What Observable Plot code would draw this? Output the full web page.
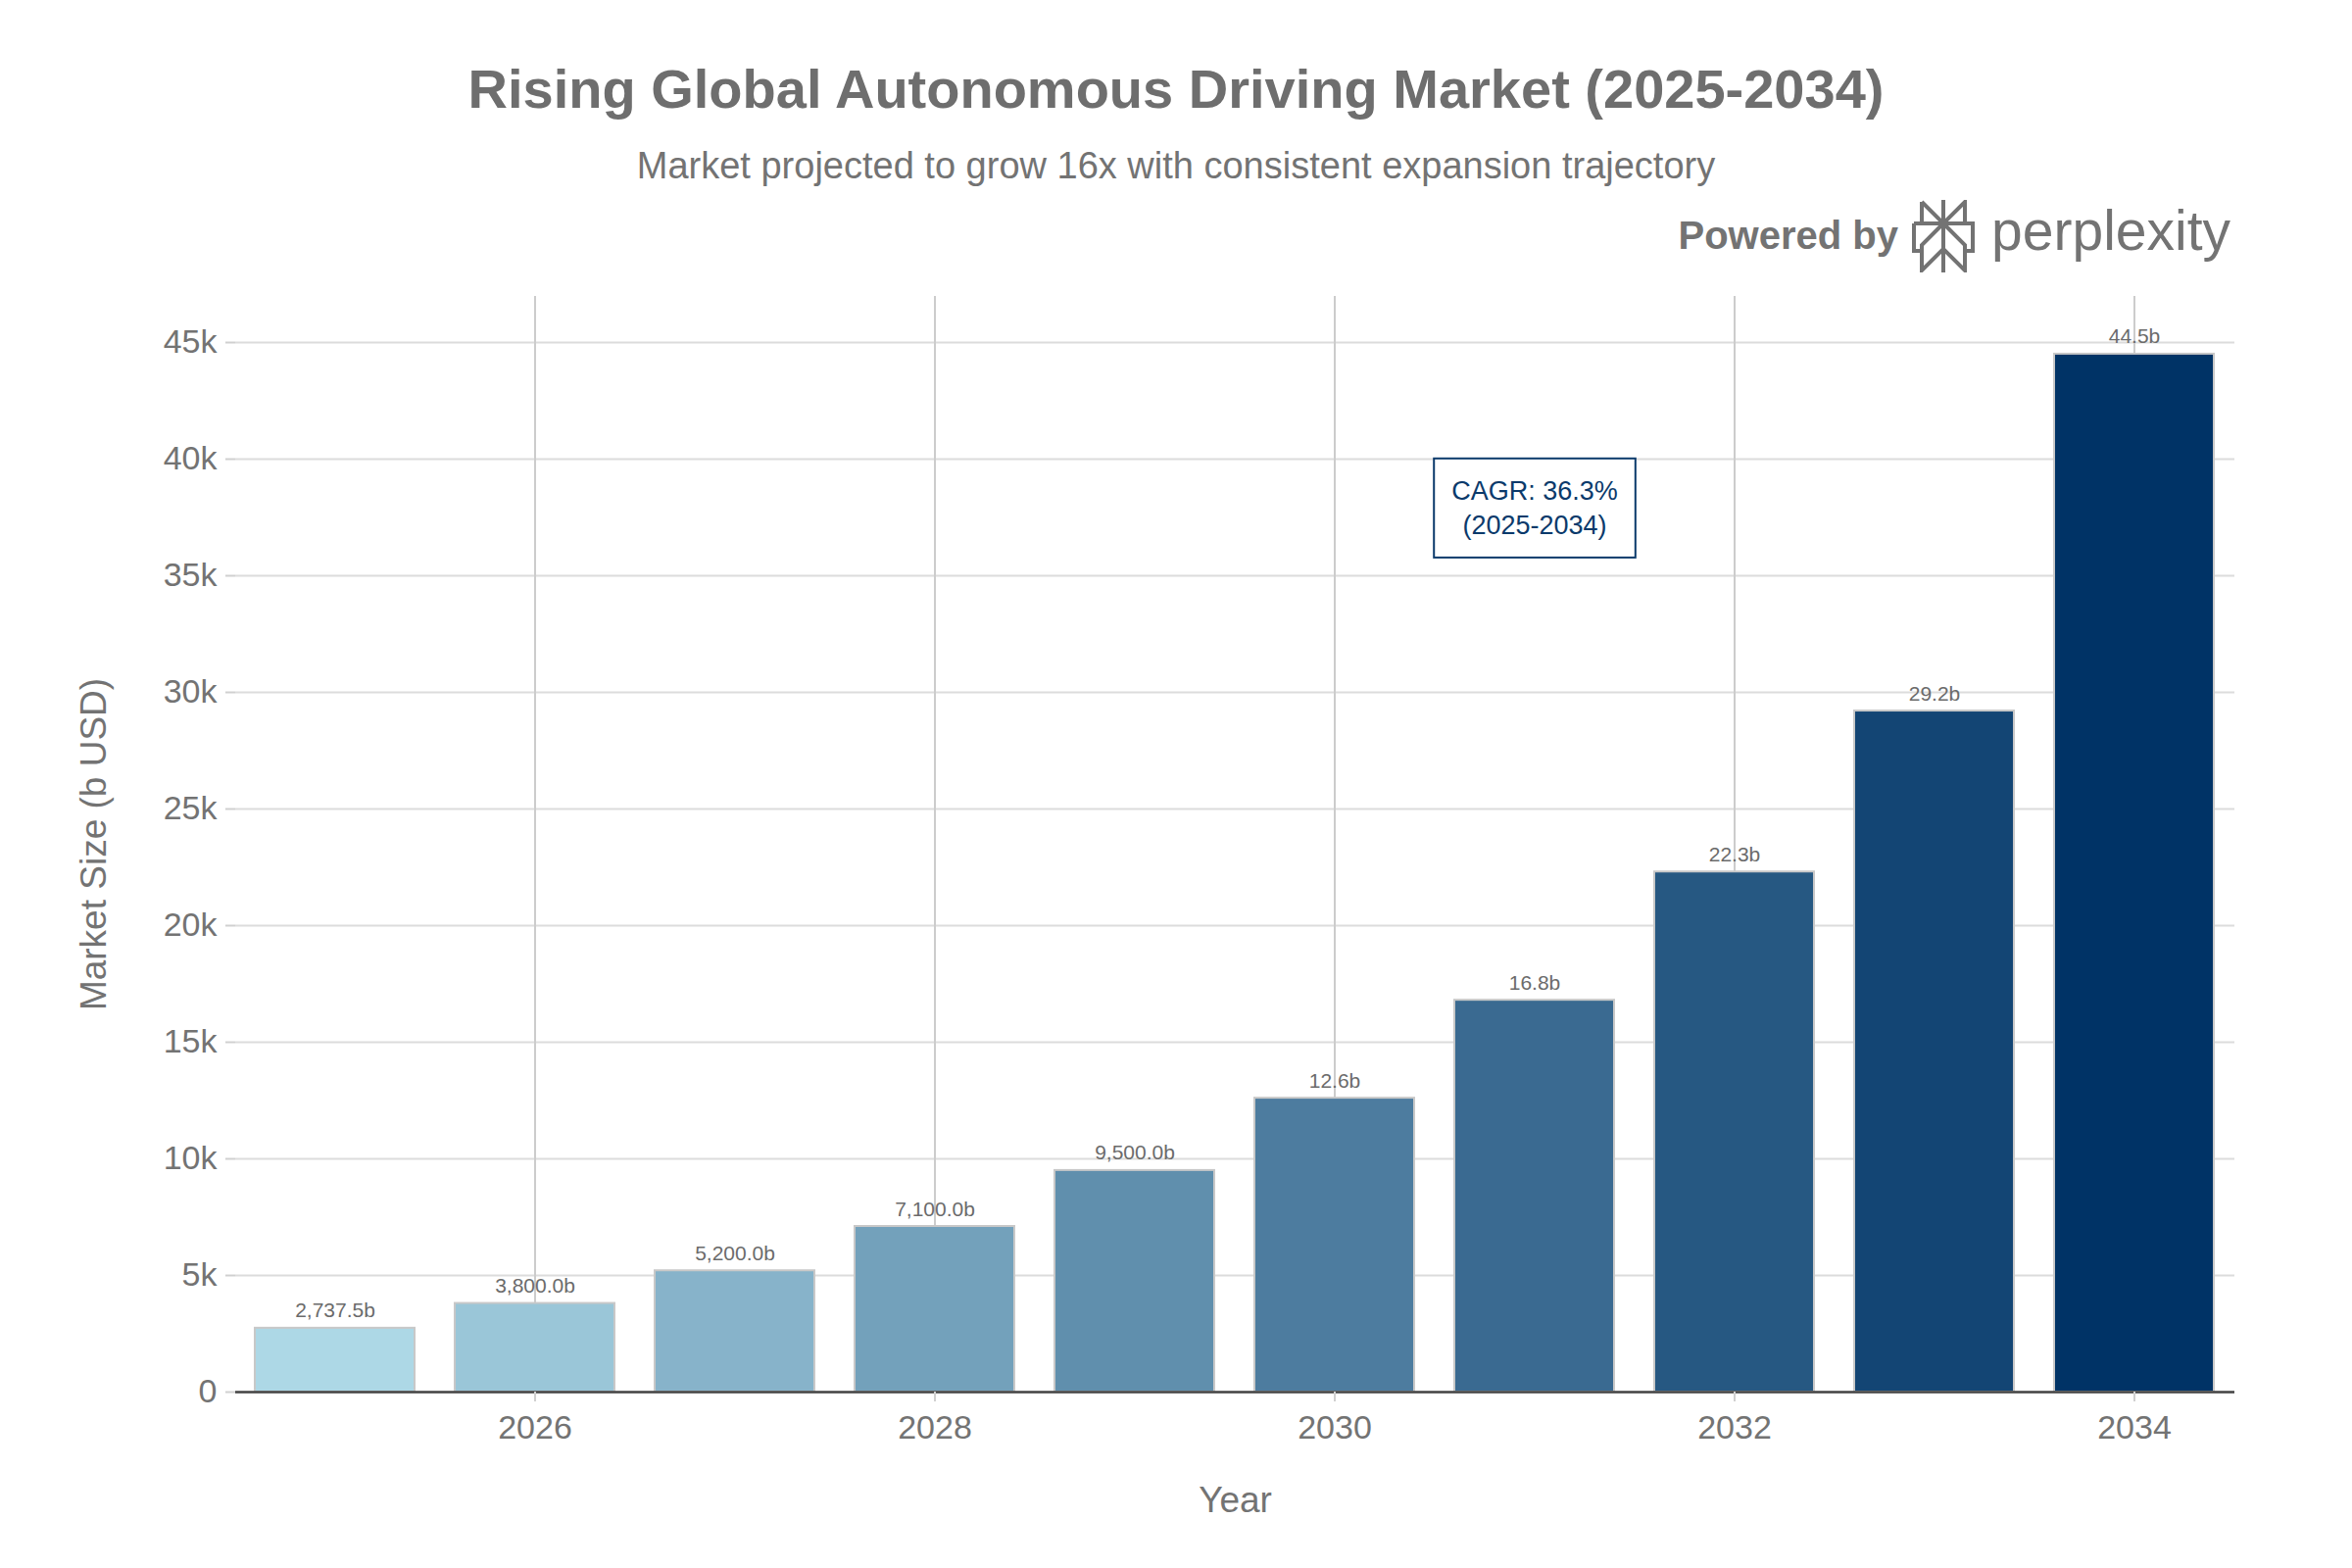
<!DOCTYPE html>
<html>
<head>
<meta charset="utf-8">
<script src="https://cdn.jsdelivr.net/npm/d3@7"></script>
<script src="https://cdn.jsdelivr.net/npm/@observablehq/plot@0.6"></script>
<style>
  html, body { margin: 0; padding: 0; background: #fff; overflow: hidden; }
  #wrap { position: relative; width: 2400px; height: 1600px; font-family: "Liberation Sans", Arial, sans-serif; }
  #header { position: relative; width: 2400px; height: 290px; }
  #title { position: absolute; left: 0; width: 2400px; top: 63px; text-align: center; font-size: 56px; line-height: 56px; font-weight: bold; color: #6e6e6e; white-space: nowrap; }
  #subtitle { position: absolute; left: 0; width: 2400px; top: 150px; text-align: center; font-size: 38px; line-height: 38px; color: #737373; white-space: nowrap; }
  #powered { position: absolute; right: 463px; top: 220px; font-size: 40px; line-height: 40px; font-weight: bold; color: #737373; white-space: nowrap; }
  #logo { position: absolute; left: 1951px; top: 204px; width: 64px; height: 74px; }
  #brand { position: absolute; right: 124px; top: 207px; font-size: 57px; line-height: 57px; color: #737373; white-space: nowrap; }
  #chart svg { display: block; }
</style>
</head>
<body>
<div id="wrap">
  <div id="header">
    <div id="title">Rising Global Autonomous Driving Market (2025-2034)</div>
    <div id="subtitle">Market projected to grow 16x with consistent expansion trajectory</div>
    <div id="powered">Powered by</div>
    <svg id="logo" viewBox="0 0 64 74">
      <path d="M32 0 V74 M10 2 L32 24 L54 2 V24 M10 2 V24 M2 24 H62 V52 H54 M2 24 V52 H10 M32 24 L10 46 V72 L32 50 L54 72 V46 L32 24"
            fill="none" stroke="#737373" stroke-width="4" stroke-linejoin="miter"/>
    </svg>
    <div id="brand">perplexity</div>
  </div>
  <div id="chart"></div>
</div>
<script>
// ---- data ----
const years = [2025, 2026, 2027, 2028, 2029, 2030, 2031, 2032, 2033, 2034];
const marketSize = [2737.5, 3800, 5200, 7100, 9500, 12600, 16800, 22300, 29200, 44500];
const valueLabels = ["2,737.5b", "3,800.0b", "5,200.0b", "7,100.0b", "9,500.0b", "12.6b", "16.8b", "22.3b", "29.2b", "44.5b"];
const xTicks = [2026, 2028, 2030, 2032, 2034];
const yTicks = [0, 5000, 10000, 15000, 20000, 25000, 30000, 35000, 40000, 45000];
const yTickLabels = ["0", "5k", "10k", "15k", "20k", "25k", "30k", "35k", "40k", "45k"];
const annotationYear = [2031];
const annotationValue = [38000];
const annotationText = ["CAGR: 36.3%\n(2025-2034)"];
const yMax = 46975;

const rows = years.map((y, i) => ({year: y, value: marketSize[i], label: valueLabels[i]}));
const note = annotationYear.map((y, i) => ({year: y, value: annotationValue[i], text: annotationText[i]}));

const navy = "#0b3a6b";

const chart = Plot.plot({
  width: 2400,
  height: 1310,
  marginTop: 12,
  marginBottom: 180,
  marginLeft: 240,
  marginRight: 120,
  style: {fontFamily: "'Liberation Sans', Arial, sans-serif", color: "#737373", background: "#fff"},
  x: {type: "band", domain: years, paddingInner: 0.2, paddingOuter: 0.1, label: null},
  y: {domain: [0, yMax], label: null},
  color: {type: "linear", domain: [2025, 2034], range: ["#ADD8E6", "#003366"], interpolate: "rgb"},
  marks: [
    Plot.gridY({ticks: yTicks, stroke: "#dcdcdc", strokeOpacity: 1, strokeWidth: 2}),
    Plot.gridX({ticks: xTicks, stroke: "#cccccc", strokeOpacity: 1, strokeWidth: 2}),
    Plot.barY(rows, {x: "year", y: "value", fill: "year", stroke: "#c8c8c8", strokeWidth: 2}),
    Plot.ruleY([0], {stroke: "#444", strokeWidth: 2.5}),
    Plot.text(rows, {x: "year", y: "value", text: "label", dy: -11, lineAnchor: "bottom", fontSize: 21, fill: "#6b6b6b"}),
    Plot.axisY({ticks: yTicks, tickFormat: d => yTickLabels[yTicks.indexOf(d)], tickSize: 10, tickPadding: 9,
                fontSize: 34, stroke: "#d0d0d0", strokeWidth: 2, fill: "#737373", label: null}),
    Plot.axisX({ticks: xTicks, tickFormat: d => String(d), tickSize: 10, tickPadding: 13,
                fontSize: 34, stroke: "#d0d0d0", strokeWidth: 2, fill: "#737373", label: null}),
    Plot.text(["Market Size (b USD)"], {frameAnchor: "left", dx: -144, rotate: -90, fontSize: 37, fill: "#737373", textAnchor: "middle", lineAnchor: "middle"}),
    Plot.text(["Year"], {frameAnchor: "bottom", dy: 111, fontSize: 37, fill: "#737373", textAnchor: "middle", lineAnchor: "middle"}),
    Plot.text(note, {x: "year", y: "value", text: "text", fontSize: 27, lineHeight: 1.3, fill: navy, lineAnchor: "middle", className: "cagr-note"})
  ]
});

document.getElementById("chart").appendChild(chart);

// box around the CAGR annotation, sized from the rendered text
const noteG = chart.querySelector("g.cagr-note") || chart.querySelector(".cagr-note");
if (noteG) {
  const bb = noteG.getBBox();
  const padX = 18, padY = 18;
  const rect = document.createElementNS("http://www.w3.org/2000/svg", "rect");
  rect.setAttribute("x", bb.x - padX);
  rect.setAttribute("y", bb.y - padY);
  rect.setAttribute("width", bb.width + 2 * padX);
  rect.setAttribute("height", bb.height + 2 * padY);
  rect.setAttribute("fill", "#fff");
  rect.setAttribute("stroke", navy);
  rect.setAttribute("stroke-width", 2);
  const t = noteG.getAttribute("transform");
  if (t) rect.setAttribute("transform", t);
  noteG.parentNode.insertBefore(rect, noteG);
}
</script>
</body>
</html>
